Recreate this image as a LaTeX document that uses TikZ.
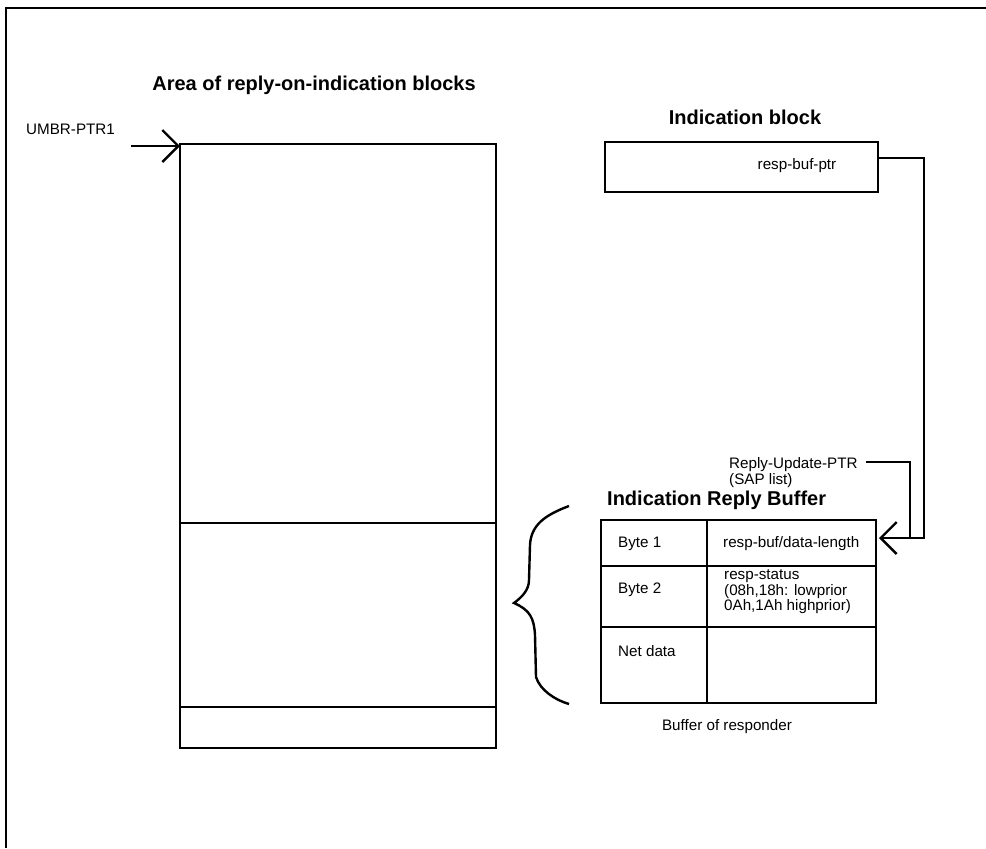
\documentclass[tikz,border=0pt]{standalone}
\usepackage{fontspec}
\setmainfont{Liberation Sans}
\usetikzlibrary{calc,arrows.meta}

\begin{document}
\begin{tikzpicture}[x=0.5pt, y=-0.5pt, line width=1.2pt,
    ptr/.style={-{Straight Barb[length=8pt,width=16pt]}},
    lbl/.style={font=\fontsize{7.6}{7.75}\selectfont, inner sep=0pt},
    ttl/.style={font=\fontsize{10}{12}\selectfont\bfseries, inner sep=0pt}]

        \useasboundingbox (0,0) rectangle (986,848);

        % Outer frame, cut off at right and bottom
        \draw (6,848) -- (6,8) -- (986,8);

        % Corner points of the boxes
        \coordinate (A1) at (180,144);
        \coordinate (A2) at (496,748);
        \coordinate (B1) at (605,142);
        \coordinate (B2) at (878,192);
        \coordinate (C1) at (601,520);
        \coordinate (C2) at (876,703);
        \coordinate (U0) at (131,146);
        \coordinate (R1) at (866,462);
        \coordinate (R2) at (910,538);
        \coordinate (T1) at (879,538);

        % Area of reply-on-indication blocks
        \node[ttl] (areattl) at (314,85) {Area of reply-on-indication blocks};
        \node[lbl, anchor=west] (umbr) at (25,129) {UMBR-PTR1};
        \draw (A1) rectangle (A2);
        \draw (A1 |- 0,523) -- (A2 |- 0,523);
        \draw (A1 |- 0,707) -- (A2 |- 0,707);
        \draw[ptr] (U0) -- (A1 |- U0);

        % Indication block
        \node[ttl] (blkttl) at (745,117) {Indication block};
        \draw (B1) rectangle (B2);
        \node[lbl] (rbp) at (797,166) {resp-buf-ptr};
        \draw[ptr] (B2 |- 0,158) -- (924,158) |- (T1);

        % Reply-Update-PTR
        \node[lbl, anchor=north west, align=left,
            font=\fontsize{7.6}{6.5}\selectfont] (rup) at (728,456)
            {Reply-Update-PTR\\(SAP list)};
        \draw (R1) -| (R2);

        % Indication Reply Buffer
        \node[ttl, anchor=west] (bufttl) at (606,500) {Indication Reply Buffer};
        \draw (C1) rectangle (C2);
        \draw (C1 |- 0,566) -- (C2 |- 0,566);
        \draw (C1 |- 0,627) -- (C2 |- 0,627);
        \draw (707,520) -- (707,703);

        \node[lbl, anchor=west] (byte1) at (617,544) {Byte 1};
        \node[lbl, anchor=west] (len) at (722,544) {resp-buf/data-length};
        \node[lbl, anchor=west] (byte2) at (617,590) {Byte 2};
        \node[lbl, anchor=west, align=left] (stat) at (723,592)
            {resp-status\\(08h,18h: lowprior\\0Ah,1Ah highprior)};
        \node[lbl, anchor=west] (net) at (617,651) {Net data};
        \node[lbl] (resp) at (727,727) {Buffer of responder};

        % Hand drawn brace
        \draw (569,506) .. controls (545,515) and (531,525) .. (530,545)
            -- (529,580) .. controls (529,590) and (522,597) .. (514,603)
            .. controls (530,610) and (534,618) .. (535,635)
            -- (536,677) .. controls (540,690) and (555,700) .. (569,704);

\end{tikzpicture}
\end{document}
